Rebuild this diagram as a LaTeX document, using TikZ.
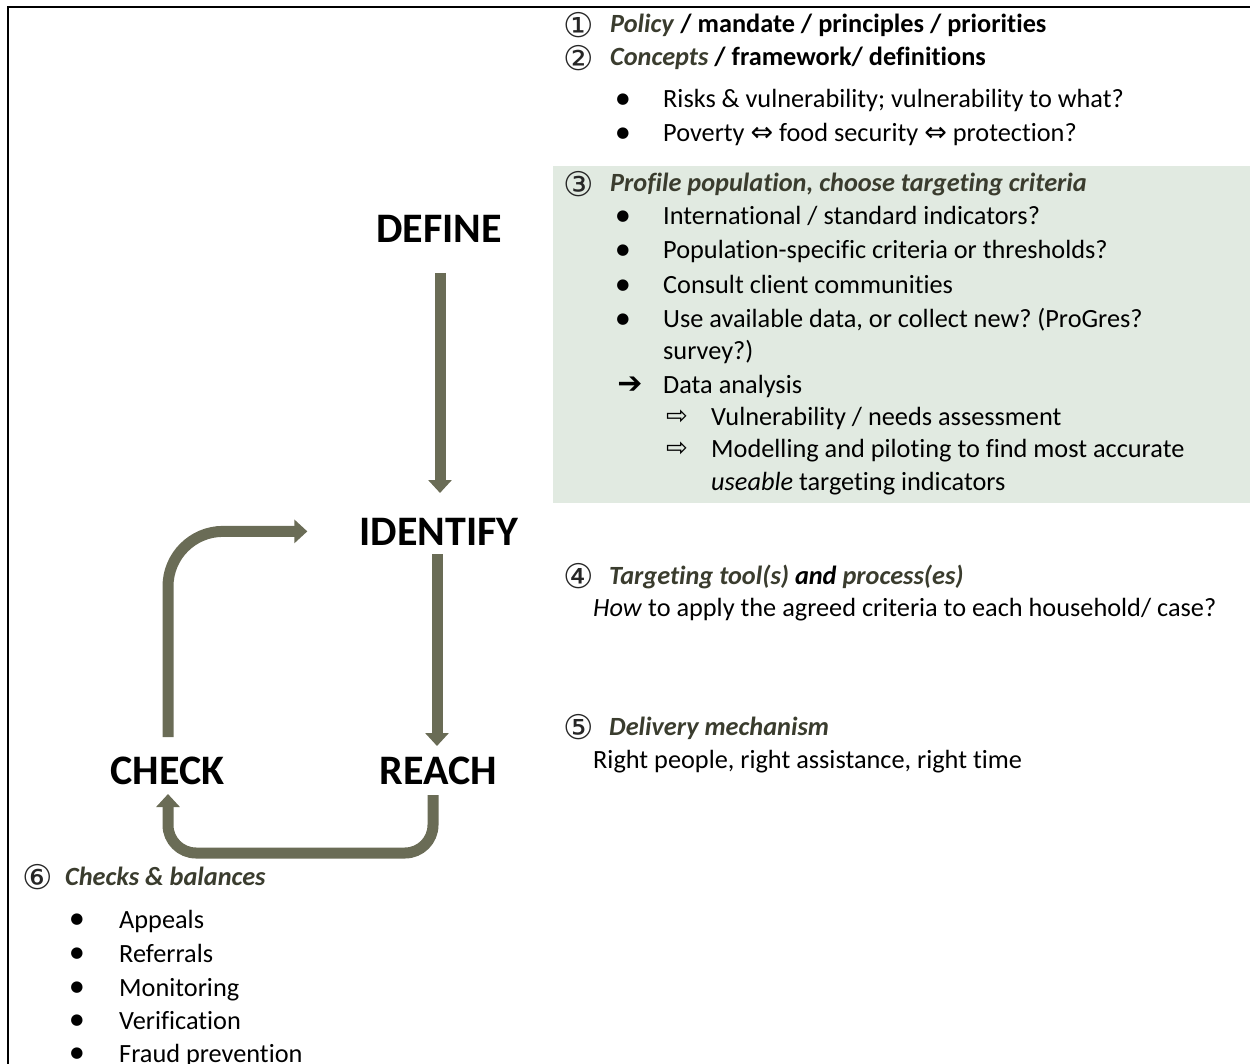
\documentclass[tikz,border=0pt]{standalone}
\usepackage{fontspec}
\setmainfont{Carlito}[Ligatures=NoCommon]
\newfontfamily\symf{DejaVu Sans}
\usetikzlibrary{arrows.meta}
\frenchspacing
\definecolor{boxgreen}{RGB}{225,234,225}
\definecolor{arrowc}{RGB}{106,108,86}
\definecolor{headc}{RGB}{58,60,46}
\tikzset{
 txt/.style={anchor=base west, inner sep=0pt, font=\fontsize{26.3}{31}\selectfont},
 big/.style={anchor=base, inner sep=0pt, font=\fontsize{42}{50}\selectfont\bfseries},
 num/.style={anchor=center, inner sep=0pt, text=black!85, font=\symf\fontsize{34}{40}\selectfont},
 dotb/.style={anchor=center, inner sep=0pt, font=\symf\fontsize{15}{18}\selectfont},
 arrb/.style={anchor=center, inner sep=0pt, font=\symf\bfseries\fontsize{30}{34}\selectfont},
 arrw/.style={anchor=center, inner sep=0pt, font=\symf\fontsize{26}{30}\selectfont},
 flow/.style={draw=arrowc, line width=11pt, -{Triangle[width=23pt,length=13pt]}},
}
\newcommand{\hd}[1]{\textcolor{headc}{\textbf{\textit{#1}}}}
\newcommand{\dblarr}{{\symf\fontsize{27}{30}\selectfont ⇔}}
\begin{document}
\begin{tikzpicture}[x=1pt,y=-1pt]
\useasboundingbox (0,0) rectangle (1250,1064);
\clip (0,0) rectangle (1250,1064);
% green panel
\fill[boxgreen] (553,166) rectangle (1250,503);
% frame
\draw[line width=2.5pt] (8,1070) -- (8,7) -- (1256,7);

% section 1 and 2
\node[num] (n1) at (579,25) {①};
\node[txt] (t1) at (610,33) {\hd{Policy} \textbf{/ mandate / principles / priorities}};
\node[num] (n2) at (579,58) {②};
\node[txt] (t2) at (610,66) {\hd{Concepts} \textbf{/ framework/ definitions}};
\node[dotb] (b21) at (623,100) {●};
\node[txt] (t21) at (663,108) {Risks \& vulnerability; vulnerability to what?};
\node[dotb] (b22) at (623,134) {●};
\node[txt] (t22) at (663,142) {Poverty \dblarr{} food security \dblarr{} protection?};

% section 3
\node[num] (n3) at (579,184) {③};
\node[txt] (t3) at (610,192) {\hd{Profile population, choose targeting criteria}};
\node[dotb] (b31) at (623,217) {●};
\node[txt] (t31) at (663,225) {International / standard indicators?};
\node[dotb] (b32) at (623,251) {●};
\node[txt] (t32) at (663,259) {Population-specific criteria or thresholds?};
\node[dotb] (b33) at (623,286) {●};
\node[txt] (t33) at (663,294) {Consult client communities};
\node[dotb] (b34) at (623,320) {●};
\node[txt] (t34) at (663,328) {Use available data, or collect new? (ProGres?};
\node[txt] (t34b) at (663,360) {survey?)};
\node[arrb] (b35) at (630,385) {➔};
\node[txt] (t35) at (663,393) {Data analysis};
\node[arrw] (b36) at (677,417) {⇨};
\node[txt] (t36) at (711,425) {Vulnerability / needs assessment};
\node[arrw] (b37) at (677,449) {⇨};
\node[txt] (t37) at (711,457) {Modelling and piloting to find most accurate};
\node[txt] (t37b) at (711,490) {\textit{useable} targeting indicators};

% section 4
\node[num] (n4) at (579,576) {④};
\node[txt] (t4) at (609,584) {\hd{Targeting tool(s)} \textbf{\textit{and}} \hd{process(es)}};
\node[txt] (t4b) at (593,616) {\textit{How} to apply the agreed criteria to each household/ case?};

% section 5
\node[num] (n5) at (579,727) {⑤};
\node[txt] (t5) at (609,735) {\hd{Delivery mechanism}};
\node[txt] (t5b) at (593,768) {Right people, right assistance, right time};

% section 6
\node[num] (n6) at (38,877) {⑥};
\node[txt] (t6) at (65,885) {\hd{Checks \& balances}};
\node[dotb] (b61) at (77,920) {●};
\node[txt] (t61) at (119,928) {Appeals};
\node[dotb] (b62) at (77,954) {●};
\node[txt] (t62) at (119,962) {Referrals};
\node[dotb] (b63) at (77,988) {●};
\node[txt] (t63) at (119,996) {Monitoring};
\node[dotb] (b64) at (77,1021) {●};
\node[txt] (t64) at (119,1029) {Verification};
\node[dotb] (b65) at (77,1054) {●};
\node[txt] (t65) at (119,1062) {Fraud prevention};

% cycle labels
\node[big] (define) at (439,243) {DEFINE};
\node[big] (identify) at (439,545) {IDENTIFY};
\node[big] (check) at (167.5,784) {CHECK};
\node[big] (reach) at (438.5,784) {REACH};

% connectors
\draw[flow] ([xshift=1pt,yshift=-30pt]define.base) -- ([xshift=1pt,yshift=52pt]identify.base);
\draw[flow] ([xshift=-2pt,yshift=-9pt]identify.base) -- ([xshift=-1.5pt,yshift=38pt]reach.base);
\draw[flow, rounded corners=28pt] ([xshift=-5.5pt,yshift=-11pt]reach.base) -- ++(0,58) -| ([xshift=0.5pt,yshift=-10pt]check.base);
\draw[flow, rounded corners=55pt] ([xshift=0.5pt,yshift=47pt]check.base) |- ([xshift=-52pt]identify.west);
\end{tikzpicture}
\end{document}
